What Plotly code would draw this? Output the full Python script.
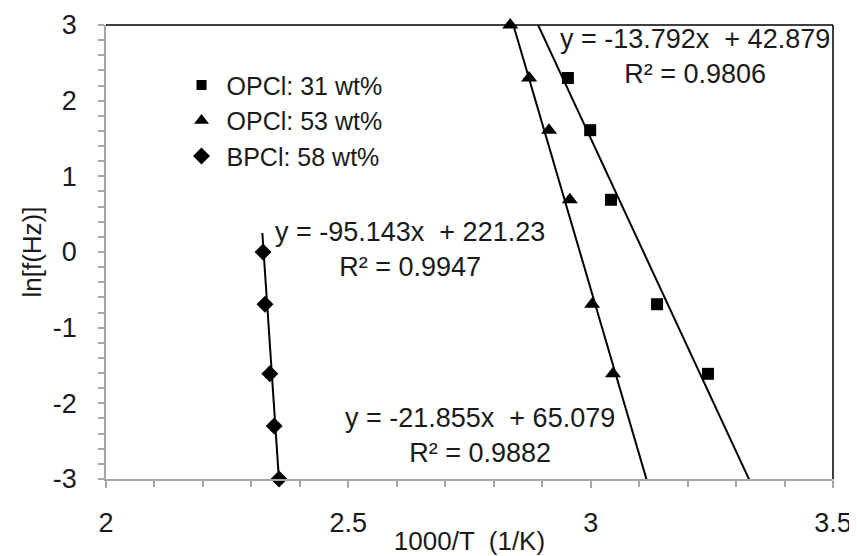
import plotly.graph_objects as go

# ---- data ----
sq_name = "OPCl: 31 wt%"
sq_x = [2.953, 2.999, 3.042, 3.137, 3.242]
sq_y = [2.30, 1.61, 0.69, -0.69, -1.61]

tri_name = "OPCl: 53 wt%"
tri_x = [2.834, 2.873, 2.914, 2.957, 3.003, 3.046]
tri_y = [3.00, 2.30, 1.61, 0.69, -0.69, -1.61]

dia_name = "BPCl: 58 wt%"
dia_x = [2.324, 2.328, 2.338, 2.347, 2.357]
dia_y = [0.00, -0.69, -1.61, -2.30, -3.00]

# trendline equations (slope, intercept, R²) and drawn x spans
sq_fit = (-13.792, 42.879, 0.9806)
tri_fit = (-21.855, 65.079, 0.9882)
dia_fit = (-95.143, 221.23, 0.9947)
sq_span = [2.85, 3.36]
tri_span = [2.80, 3.14]
dia_span = [2.3226, 2.3568]

x_ticks = [2, 2.5, 3, 3.5]
y_ticks = [-3, -2, -1, 0, 1, 2, 3]

FONT = "Liberation Sans, Arial, sans-serif"
TXT = "#1a1a1a"
GRAY = "#a6a6a6"

fig = go.Figure()


def fit_line(fit, span):
    m, b, _ = fit
    return span, [m * v + b for v in span]


for fit, span in [(sq_fit, sq_span), (tri_fit, tri_span), (dia_fit, dia_span)]:
    lx, ly = fit_line(fit, span)
    fig.add_trace(go.Scatter(x=lx, y=ly, mode="lines", line=dict(color="black", width=2),
                             showlegend=False, hoverinfo="skip"))

fig.add_trace(go.Scatter(x=sq_x, y=sq_y, mode="markers", showlegend=False, cliponaxis=False,
                         marker=dict(symbol="square", size=12, color="black")))
fig.add_trace(go.Scatter(x=tri_x, y=tri_y, mode="markers", showlegend=False, cliponaxis=False,
                         marker=dict(symbol="triangle-up", size=14, color="black")))
fig.add_trace(go.Scatter(x=dia_x, y=dia_y, mode="markers", showlegend=False, cliponaxis=False,
                         marker=dict(symbol="diamond", size=13, color="black")))

# legend entries
for name, sym, sz in [(sq_name, "square", 10), (tri_name, "triangle-up", 13), (dia_name, "diamond", 13)]:
    fig.add_trace(go.Scatter(x=[None], y=[None], mode="markers", name=name,
                             marker=dict(symbol=sym, size=sz, color="black")))


def eq_text(fit):
    m, b, r2 = fit
    return f"y = {m:g}x  + {b:g}<br>R² = {r2:g}"


ann = [
    (sq_fit, 3.215, 2.59),
    (dia_fit, 2.627, 0.03),
    (tri_fit, 2.772, -2.42),
]
for fit, ax_, ay_ in ann:
    fig.add_annotation(x=ax_, y=ay_, xref="x", yref="y", text=eq_text(fit), showarrow=False,
                       align="center", font=dict(family=FONT, size=27, color=TXT))

# black top and right frame lines
fig.add_shape(type="line", xref="paper", yref="paper", x0=0, x1=1, y0=1, y1=1,
              line=dict(color="black", width=1.5))
fig.add_shape(type="line", xref="paper", yref="paper", x0=1, x1=1, y0=0, y1=1,
              line=dict(color="black", width=1.5))

# the page adds an 8px body margin, so the figure is sized to fit the 857x556 window
fig.update_layout(
    width=849, height=548, autosize=False,
    margin=dict(l=98, r=24, t=17, b=77),
    paper_bgcolor="white", plot_bgcolor="white",
    font=dict(family=FONT, size=27, color=TXT),
    legend=dict(x=0.097, y=0.918, xanchor="left", yanchor="top", bgcolor="rgba(0,0,0,0)",
                font=dict(family=FONT, size=25, color=TXT), tracegroupgap=0, itemwidth=40),
    xaxis=dict(range=[2, 3.5], tickvals=x_ticks, ticktext=[f"{v:g}" for v in x_ticks],
               showgrid=False, zeroline=False, showline=True, linecolor=GRAY, linewidth=1.5,
               ticks="outside", ticklen=7, tickcolor=GRAY, tickwidth=1.5,
               minor=dict(dtick=0.1, ticks="outside", ticklen=6, tickcolor=GRAY, tickwidth=1.5),
               ticklabelstandoff=12, automargin=False,
               tickfont=dict(family=FONT, size=27, color=TXT),
               title=dict(text="1000/T  (1/K)", font=dict(family=FONT, size=26, color=TXT), standoff=0)),
    yaxis=dict(range=[-3, 3], tickvals=y_ticks, ticktext=[f"{v:g}" for v in y_ticks],
               showgrid=False, zeroline=False, showline=True, linecolor=GRAY, linewidth=1.5,
               ticks="outside", ticklen=6, tickcolor=GRAY, tickwidth=1.5,
               minor=dict(dtick=0.2, ticks="outside", ticklen=6, tickcolor=GRAY, tickwidth=1.5),
               ticklabelstandoff=16, automargin=False,
               tickfont=dict(family=FONT, size=27, color=TXT),
               title=dict(text="ln[f(Hz)]", font=dict(family=FONT, size=26, color=TXT), standoff=4)),
)

fig.write_html("out.html")
